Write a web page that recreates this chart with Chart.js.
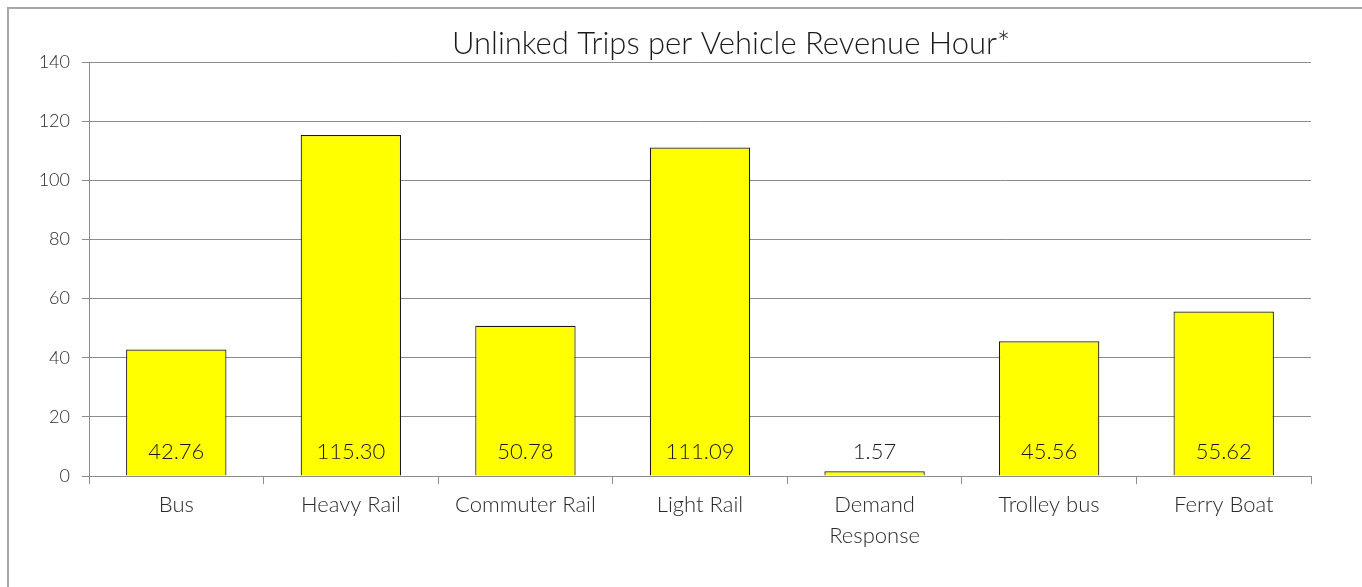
<!DOCTYPE html>
<html lang="en">
<head>
    <meta charset="UTF-8">
    <title>Unlinked Trips per Vehicle Revenue Hour</title>
    <style>
        html, body { margin: 0; padding: 0; background: #fff; overflow: hidden; }
        .frame {
            position: absolute; left: 7px; top: 7px; right: -10px; bottom: -10px;
            border-left: 2px solid #a8a8a8; border-top: 2px solid #a8a8a8;
            pointer-events: none;
        }
        canvas { position: absolute; left: 0; top: 0; }
    </style>
</head>
<body>
    <canvas id="chart" width="1362" height="587"></canvas>
    <div class="frame"></div>
    <script src="https://cdn.jsdelivr.net/npm/chart.js"></script>
    <script>
        // date
        const modes = ["Bus", "Heavy Rail", "Commuter Rail", "Light Rail", ["Demand", "Response"], "Trolley bus", "Ferry Boat"];
        const tripsPerHour = [42.76, 115.30, 50.78, 111.09, 1.57, 45.56, 55.62];
        const yTicks = [0, 20, 40, 60, 80, 100, 120, 140];
        const titleText = "Unlinked Trips per Vehicle Revenue Hour*";

        const FONT = "Lato, 'Open Sans', sans-serif";
        const gridColor = "#8c8c8c";

        // titlul si etichetele valorilor
        const textPlugin = {
            id: "texts",
            afterDatasetsDraw(chart) {
                const ctx = chart.ctx;
                const area = chart.chartArea;
                const y = chart.scales.y;
                ctx.save();
                ctx.fillStyle = "#1a1a1a";
                ctx.font = "300 31px " + FONT;
                ctx.textAlign = "center";
                ctx.textBaseline = "alphabetic";
                ctx.fillText(titleText, (area.left + area.right) / 2 + 31, 54);

                ctx.font = "300 22px " + FONT;
                ctx.textBaseline = "middle";
                const meta = chart.getDatasetMeta(0);
                meta.data.forEach((bar, i) => {
                    ctx.fillText(tripsPerHour[i].toFixed(2), bar.x, y.getPixelForValue(0) - 24);
                });
                ctx.restore();
            }
        };

        new Chart(document.getElementById("chart"), {
            type: "bar",
            data: {
                labels: modes,
                datasets: [{
                    data: tripsPerHour,
                    backgroundColor: "#ffff00",
                    borderColor: "#1a1a1a",
                    borderWidth: 1.2,
                    borderSkipped: "bottom",
                    categoryPercentage: 0.575,
                    barPercentage: 1
                }]
            },
            options: {
                responsive: false,
                animation: false,
                layout: { padding: { left: 8, right: 51, top: 62, bottom: 36 } },
                plugins: { legend: { display: false }, tooltip: { enabled: false }, title: { display: false } },
                scales: {
                    x: {
                        offset: true,
                        afterFit(scale) { scale.height = 75; },
                        grid: { offset: true, drawOnChartArea: false, color: gridColor, tickLength: 8 },
                        border: { color: gridColor, width: 1 },
                        ticks: { color: "#2a2a2a", font: { family: FONT, size: 22, weight: 300, lineHeight: 1.4 }, padding: 6, maxRotation: 0, autoSkip: false }
                    },
                    y: {
                        min: 0, max: 140,
                        afterFit(scale) { scale.width = 81; },
                        afterBuildTicks(scale) { scale.ticks = yTicks.map(v => ({ value: v })); },
                        grid: { color: gridColor, tickLength: 7 },
                        border: { color: gridColor, width: 1 },
                        ticks: { color: "#2a2a2a", font: { family: FONT, size: 18, weight: 300 }, padding: 12 }
                    }
                }
            },
            plugins: [textPlugin]
        });
    </script>
</body>
</html>
